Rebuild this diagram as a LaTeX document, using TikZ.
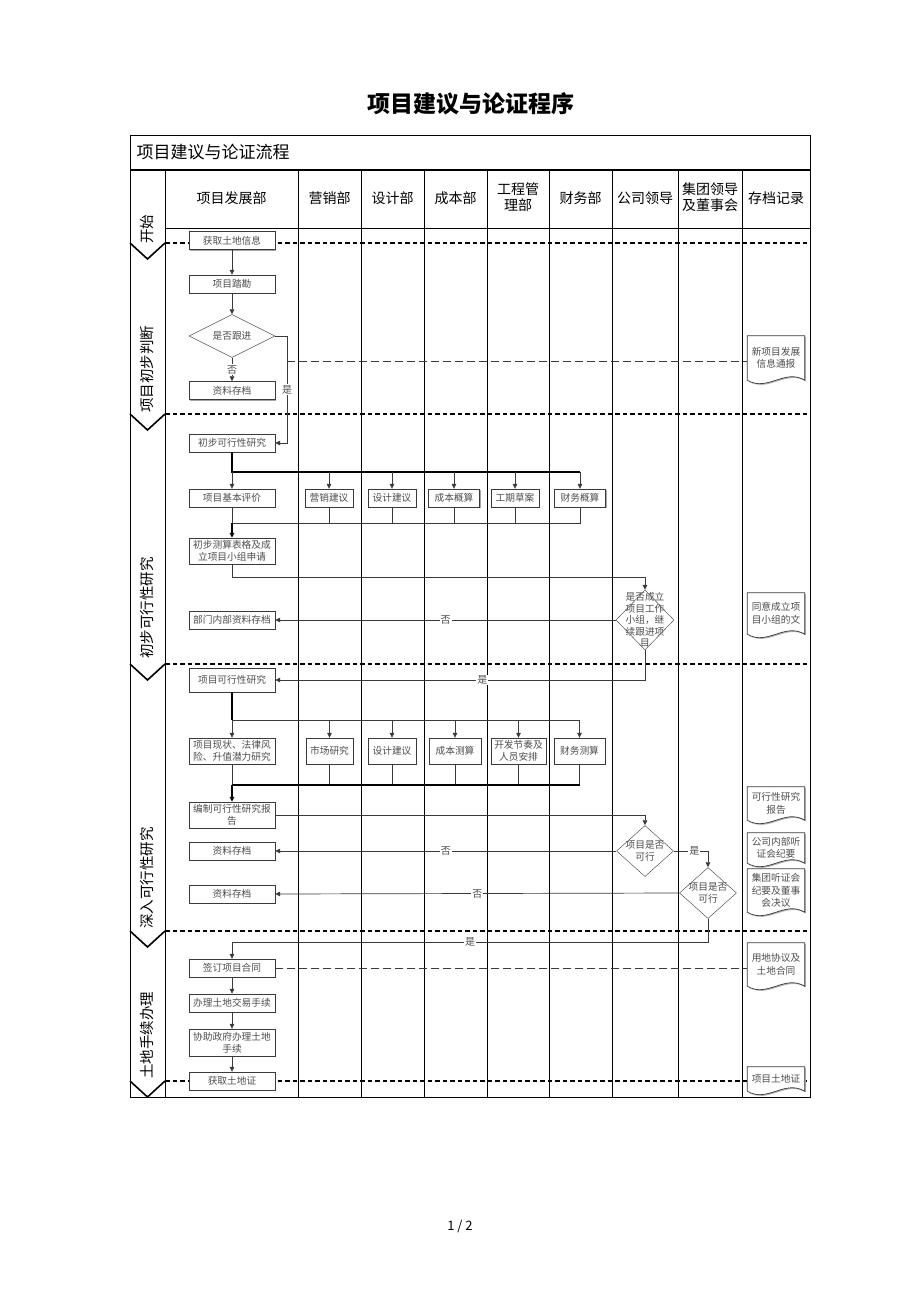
\documentclass[tikz,border=0pt]{standalone}
\usepackage{fontspec}
\setmainfont{Noto Sans CJK SC}
\usetikzlibrary{
    shapes.geometric,
    shadows,
    arrows.meta,
    positioning,
}
\definecolor{ink}{HTML}{3A3A3A}
\definecolor{boxtext}{HTML}{4D4D4D}
\pgfdeclarelayer{lanes}
\pgfdeclarelayer{frames}
\pgfsetlayers{lanes,frames,main}
\tikzstyle{block} = [rectangle, draw=ink, fill=white, text=boxtext,
    font=\fontsize{9.7}{12}\selectfont, align=center, inner sep=1pt,
    minimum width=86pt, minimum height=18pt,
    drop shadow={shadow xshift=1.2pt, shadow yshift=-1.2pt, fill=gray!70, opacity=1}]
\tikzstyle{dept} = [block, minimum width=48pt]
\tikzstyle{decision} = [diamond, draw=ink, fill=white, inner sep=0pt]
\tikzstyle{dtext} = [text=boxtext, font=\fontsize{9.7}{11.5}\selectfont, align=center, inner sep=0pt]
\tikzstyle{doc} = [text=boxtext, font=\fontsize{9.7}{12.5}\selectfont, align=center,
    minimum width=57pt, inner sep=1pt]
\tikzstyle{line} = [draw=ink, line width=0.7pt]
\tikzstyle{bus} = [draw=black, line width=1.7pt]
\tikzstyle{memo} = [draw=ink, line width=0.7pt, dash pattern=on 8pt off 4pt]
\tikzstyle{lbl} = [fill=white, inner sep=1pt, text=boxtext, font=\fontsize{10}{11}\selectfont]
\tikzstyle{lane} = [draw=black, line width=1pt]
\tikzstyle{gate} = [draw=black, line width=2.4pt, dash pattern=on 4.5pt off 3pt]
\tikzstyle{colhead} = [font=\fontsize{14}{16.5}\selectfont, align=center]
\tikzstyle{phaselbl} = [rotate=90, font=\fontsize{14.5}{16}\selectfont]

% archive document outline with a wavy bottom
\newcommand{\docframe}[1]{%
  \begin{pgfonlayer}{frames}
    \path [fill=gray!60, transform canvas={xshift=1.2pt, yshift=-1.2pt}]
      (#1.north west) -- (#1.north east) -- (#1.south east)
      .. controls +(-20,-12) and +(20,12) .. (#1.south west) -- cycle;
    \path [line, fill=white]
      (#1.north west) -- (#1.north east) -- (#1.south east)
      .. controls +(-20,-12) and +(20,12) .. (#1.south west) -- cycle;
  \end{pgfonlayer}}

\begin{document}
\begin{tikzpicture}[x=1pt, y=-1pt, >={Triangle[length=5pt,width=4.5pt]}]
    \useasboundingbox (0,0) rectangle (920,1302);
    \node [font=\fontsize{23}{25}\selectfont\bfseries] (title) at (471,104) {项目建议与论证程序};
    \node [font=\fontsize{13}{15}\selectfont] (page) at (460,1226) {1 / 2};

    % Frame, lanes and phase gates
    \begin{pgfonlayer}{lanes}
        \draw [lane] (130,135) rectangle (810,1097);
        \draw [line width=2.4pt] (130,170) -- (810,170);
        \draw [lane] (165,228) -- (810,228);
        \foreach \x in {165,298,361,424,487,549,612,678,742}
            \draw [lane] (\x,170) -- (\x,1097);
        \foreach \y in {243,414,664,931,1081} {
            \draw [gate] (165,\y) -- (810,\y);
            \draw [line width=1.6pt] (130,\y) -- (147.5,\y+16) -- (165,\y);
        }
    \end{pgfonlayer}

    % Headers
    \node [font=\fontsize{17}{20}\selectfont, anchor=west] (head) at (133,152) {项目建议与论证流程};
    \node [colhead] (h1) at (231.5,198) {项目发展部};
    \node [colhead] (h2) at (329.5,198) {营销部};
    \node [colhead] (h3) at (392.5,198) {设计部};
    \node [colhead] (h4) at (455.5,198) {成本部};
    \node [colhead] (h5) at (518,197) {工程管\\理部};
    \node [colhead] (h6) at (580.5,198) {财务部};
    \node [colhead] (h7) at (645,198) {公司领导};
    \node [colhead] (h8) at (710,197) {集团领导\\及董事会};
    \node [colhead] (h9) at (776,198) {存档记录};
    \node [phaselbl] (p0) at (147,229) {开始};
    \node [phaselbl] (p1) at (147,369) {项目初步判断};
    \node [phaselbl] (p2) at (147,608) {初步可行性研究};
    \node [phaselbl] (p3) at (147,878) {深入可行性研究};
    \node [phaselbl] (p4) at (147,1035) {土地手续办理};

    % Place nodes
    \node [block] (f1) at (232,240.5) {获取土地信息};
    \node [block] (f2) at (232,284) {项目踏勘};
    \node [decision, minimum width=86pt, minimum height=43pt,
        label={[dtext]center:是否跟进}] (d1) at (232,336) {};
    \node [block] (f3) at (232,390.5) {资料存档};
    \node [block] (f4) at (232,443) {初步可行性研究};
    \node [block] (f5) at (232,498) {项目基本评价};
    \node [dept] (b1) at (329,498) {营销建议};
    \node [dept] (b2) at (392,498) {设计建议};
    \node [dept, minimum width=51pt] (b3) at (454,498) {成本概算};
    \node [dept] (b4) at (515,498) {工期草案};
    \node [dept, minimum width=51pt] (b5) at (580,498) {财务概算};
    \node [block, minimum height=26pt] (f6) at (232,551) {初步测算表格及成\\立项目小组申请};
    \node [decision, minimum width=58pt, minimum height=60pt,
        label={[dtext]center:{是否成立\\项目工作\\小组，继\\续跟进项\\目}}] (d2) at (645,620) {};
    \node [block] (f7) at (232,620) {部门内部资料存档};
    \node [block, minimum height=24pt] (f8) at (232,680) {项目可行性研究};
    \node [block, minimum height=26pt] (f9) at (232,751) {项目现状、法律风\\险、升值潜力研究};
    \node [dept, minimum height=26pt, minimum width=47pt] (c1) at (329.5,751) {市场研究};
    \node [dept, minimum height=26pt] (c2) at (392,751) {设计建议};
    \node [dept, minimum height=26pt, minimum width=52pt] (c3) at (455,751) {成本测算};
    \node [dept, minimum height=26pt, minimum width=55pt] (c4) at (518.5,751) {开发节奏及\\人员安排};
    \node [dept, minimum height=26pt, minimum width=51pt] (c5) at (579.5,751) {财务测算};
    \node [block, minimum height=26pt] (f10) at (232,815) {编制可行性研究报\\告};
    \node [decision, minimum width=57pt, minimum height=51pt,
        label={[dtext]center:{项目是否\\可行}}] (d3) at (645,851) {};
    \node [block] (f11) at (232,851) {资料存档};
    \node [decision, minimum width=57pt, minimum height=51pt,
        label={[dtext]center:{项目是否\\可行}}] (d4) at (708,893) {};
    \node [block] (f12) at (232,894) {资料存档};
    \node [block] (f13) at (232,968) {签订项目合同};
    \node [block] (f14) at (232,1003) {办理土地交易手续};
    \node [block, minimum height=27pt] (f15) at (232,1042.5) {协助政府办理土地\\手续};
    \node [block] (f16) at (232,1081) {获取土地证};

    % Archive records
    \node [doc, minimum height=44pt] (doc1) at (776,358) {新项目发展\\信息通报};
    \node [doc, minimum height=41pt] (doc2) at (776,613.5) {同意成立项\\目小组的文};
    \node [doc, minimum height=33pt] (doc3) at (776,803.5) {可行性研究\\报告};
    \node [doc, minimum height=30pt] (doc4) at (776,848) {公司内部听\\证会纪要};
    \node [doc, minimum height=43pt] (doc5) at (776,890.5) {集团听证会\\纪要及董事\\会决议};
    \node [doc, minimum height=43pt] (doc6) at (776,964.5) {用地协议及\\土地合同};
    \node [doc, minimum height=24pt] (doc7) at (776,1079) {项目土地证};
    \foreach \d in {doc1,doc2,doc3,doc4,doc5,doc6,doc7}
        \docframe{\d};

    % Draw edges
    \path [line,->] (f1) -- (f2);
    \path [line,->] (f2) -- (d1);
    \path [line,->] (d1) -- node [lbl] {否} (f3);
    \path [line,->] (d1.east) -- ++(12,0) |- node [lbl, pos=0.25] {是} (f4.east);
    \coordinate (tap1) at (287,361);
    \path [memo] (tap1) -- (tap1 -| doc1.west);

    \coordinate (br1) at (232,472);
    \coordinate (br1e) at (580,472);
    \path [bus] (f4) -- (br1) -- (br1e);
    \path [line,->] (br1) -- (f5);
    \foreach \b in {b1,b2,b3,b4,b5}
        \path [line,->] (\b |- br1) -- (\b);
    \coordinate (mg1) at (232,523);
    \path [line] (f5) -- (mg1);
    \foreach \b in {b1,b2,b3,b4,b5}
        \path [line] (\b) |- (mg1);
    \path [bus,->] (mg1) -- (f6);

    \path [line,->] (f6.south) -- ++(0,13) -| (d2.north);
    \path [line,->] (d2.west) -- node [lbl] {否} (f7.east);
    \path [line,->] (d2.south) |- node [lbl, pos=0.72] {是} (f8.east);

    \coordinate (br2) at (232,720);
    \coordinate (br2e) at (580,720);
    \path [bus] (f8) -- (br2);
    \path [line] (br2) -- (br2e);
    \path [line,->] (br2) -- (f9);
    \foreach \c in {c1,c2,c3,c4,c5}
        \path [line,->] (\c |- br2) -- (\c);
    \coordinate (mg2) at (232,785);
    \coordinate (mg2e) at (580,785);
    \path [line] (f9) -- (mg2);
    \foreach \c in {c1,c2,c3,c4,c5}
        \path [line] (\c) -- (\c |- mg2);
    \path [bus] (mg2) -- (mg2e);
    \path [bus,->] (mg2) -- (f10);

    \path [line,->] (f10.east) -| (d3.north);
    \path [line,->] (d3.west) -- node [lbl] {否} (f11.east);
    \path [line,->] (d3.east) -| node [lbl, pos=0.3] {是} (d4.north);
    \path [line,->] (d4.west) -- node [lbl] {否} (f12.east);
    \coordinate (jn) at (232,942);
    \path [line,->] (d4.south) |- node [lbl, pos=0.75] {是} (jn) -- (f13);

    \path [memo] (f13.east) -- (f13.east -| doc6.west);
    \path [line,->] (f13) -- (f14);
    \path [line,->] (f14) -- (f15);
    \path [line,->] (f15) -- (f16);
\end{tikzpicture}
\end{document}
